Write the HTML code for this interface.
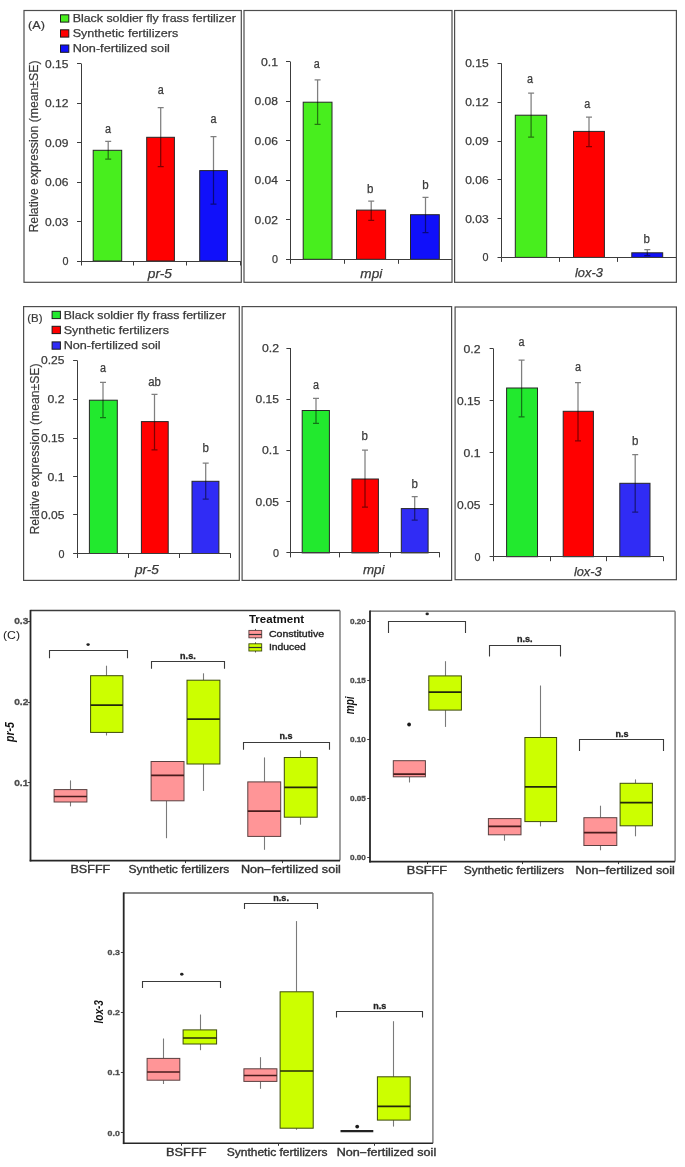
<!DOCTYPE html>
<html><head><meta charset="utf-8"><style>
html,body{margin:0;padding:0;background:#fff;}
svg{display:block;font-family:"Liberation Sans", sans-serif;will-change:transform;}
</style></head><body>
<svg width="685" height="1167" viewBox="0 0 685 1167" font-family='"Liberation Sans", sans-serif'>
<rect width="685" height="1167" fill="#fff"/>
<rect x="24" y="10.5" width="217.3" height="271.8" fill="none" stroke="#4d4d4d" stroke-width="1.2"/>
<line x1="81.5" y1="63.5" x2="81.5" y2="261" stroke="#3c3c3c" stroke-width="1"/>
<line x1="77" y1="63.5" x2="81" y2="63.5" stroke="#3c3c3c" stroke-width="1"/>
<text x="68.5" y="67.5" font-size="11" text-anchor="end" fill="#3a3a3a" stroke="#3a3a3a" stroke-width="0.25" textLength="23.4" lengthAdjust="spacingAndGlyphs">0.15</text>
<line x1="77" y1="103.5" x2="81" y2="103.5" stroke="#3c3c3c" stroke-width="1"/>
<text x="68.5" y="107" font-size="11" text-anchor="end" fill="#3a3a3a" stroke="#3a3a3a" stroke-width="0.25" textLength="23.4" lengthAdjust="spacingAndGlyphs">0.12</text>
<line x1="77" y1="142.5" x2="81" y2="142.5" stroke="#3c3c3c" stroke-width="1"/>
<text x="68.5" y="146.5" font-size="11" text-anchor="end" fill="#3a3a3a" stroke="#3a3a3a" stroke-width="0.25" textLength="23.4" lengthAdjust="spacingAndGlyphs">0.09</text>
<line x1="77" y1="182.5" x2="81" y2="182.5" stroke="#3c3c3c" stroke-width="1"/>
<text x="68.5" y="186" font-size="11" text-anchor="end" fill="#3a3a3a" stroke="#3a3a3a" stroke-width="0.25" textLength="23.4" lengthAdjust="spacingAndGlyphs">0.06</text>
<line x1="77" y1="221.5" x2="81" y2="221.5" stroke="#3c3c3c" stroke-width="1"/>
<text x="68.5" y="225.5" font-size="11" text-anchor="end" fill="#3a3a3a" stroke="#3a3a3a" stroke-width="0.25" textLength="23.4" lengthAdjust="spacingAndGlyphs">0.03</text>
<line x1="77" y1="261.5" x2="81" y2="261.5" stroke="#3c3c3c" stroke-width="1"/>
<text x="68.5" y="265" font-size="11" text-anchor="end" fill="#3a3a3a" stroke="#3a3a3a" stroke-width="0.25" textLength="6" lengthAdjust="spacingAndGlyphs">0</text>
<rect x="93.2" y="150.3" width="28.5" height="110.7" fill="#48ee1e" stroke="#262626" stroke-width="1"/>
<rect x="146.7" y="137.3" width="27.7" height="123.7" fill="#ff0000" stroke="#262626" stroke-width="1"/>
<rect x="199.7" y="170.6" width="27.7" height="90.4" fill="#1010fa" stroke="#262626" stroke-width="1"/>
<line x1="81" y1="261.5" x2="241" y2="261.5" stroke="#3c3c3c" stroke-width="1"/>
<line x1="81.5" y1="261" x2="81.5" y2="265.5" stroke="#3c3c3c" stroke-width="1"/>
<line x1="133.5" y1="261" x2="133.5" y2="265.5" stroke="#3c3c3c" stroke-width="1"/>
<line x1="186.5" y1="261" x2="186.5" y2="265.5" stroke="#3c3c3c" stroke-width="1"/>
<line x1="240.5" y1="261" x2="240.5" y2="265.5" stroke="#3c3c3c" stroke-width="1"/>
<path d="M108.2,141.4 V159 M105.2,141.4 H111.2 M105.2,159 H111.2" stroke="#000" stroke-opacity="0.5" stroke-width="1.25" fill="none"/>
<path d="M160.7,107.7 V166.7 M157.7,107.7 H163.7 M157.7,166.7 H163.7" stroke="#000" stroke-opacity="0.5" stroke-width="1.25" fill="none"/>
<path d="M213.5,136.6 V204 M210.5,136.6 H216.5 M210.5,204 H216.5" stroke="#000" stroke-opacity="0.5" stroke-width="1.25" fill="none"/>
<text x="108" y="133" font-size="12.3" text-anchor="middle" fill="#3a3a3a" stroke="#3a3a3a" stroke-width="0.25" textLength="6" lengthAdjust="spacingAndGlyphs">a</text>
<text x="160.7" y="94" font-size="12.3" text-anchor="middle" fill="#3a3a3a" stroke="#3a3a3a" stroke-width="0.25" textLength="6" lengthAdjust="spacingAndGlyphs">a</text>
<text x="213.5" y="122.8" font-size="12.3" text-anchor="middle" fill="#3a3a3a" stroke="#3a3a3a" stroke-width="0.25" textLength="6" lengthAdjust="spacingAndGlyphs">a</text>
<text x="159.9" y="277.7" font-size="12.5" text-anchor="middle" fill="#3a3a3a" stroke="#3a3a3a" stroke-width="0.25" font-style="italic" textLength="24.2" lengthAdjust="spacingAndGlyphs">pr-5</text>
<rect x="244" y="10.5" width="208" height="271.8" fill="none" stroke="#4d4d4d" stroke-width="1.2"/>
<line x1="290.5" y1="61.5" x2="290.5" y2="259.3" stroke="#3c3c3c" stroke-width="1"/>
<line x1="286" y1="61.5" x2="290" y2="61.5" stroke="#3c3c3c" stroke-width="1"/>
<text x="278" y="65.5" font-size="11" text-anchor="end" fill="#3a3a3a" stroke="#3a3a3a" stroke-width="0.25" textLength="17" lengthAdjust="spacingAndGlyphs">0.1</text>
<line x1="286" y1="101.5" x2="290" y2="101.5" stroke="#3c3c3c" stroke-width="1"/>
<text x="278" y="105" font-size="11" text-anchor="end" fill="#3a3a3a" stroke="#3a3a3a" stroke-width="0.25" textLength="23.4" lengthAdjust="spacingAndGlyphs">0.08</text>
<line x1="286" y1="140.5" x2="290" y2="140.5" stroke="#3c3c3c" stroke-width="1"/>
<text x="278" y="144.6" font-size="11" text-anchor="end" fill="#3a3a3a" stroke="#3a3a3a" stroke-width="0.25" textLength="23.4" lengthAdjust="spacingAndGlyphs">0.06</text>
<line x1="286" y1="180.5" x2="290" y2="180.5" stroke="#3c3c3c" stroke-width="1"/>
<text x="278" y="184.1" font-size="11" text-anchor="end" fill="#3a3a3a" stroke="#3a3a3a" stroke-width="0.25" textLength="23.4" lengthAdjust="spacingAndGlyphs">0.04</text>
<line x1="286" y1="219.5" x2="290" y2="219.5" stroke="#3c3c3c" stroke-width="1"/>
<text x="278" y="223.7" font-size="11" text-anchor="end" fill="#3a3a3a" stroke="#3a3a3a" stroke-width="0.25" textLength="23.4" lengthAdjust="spacingAndGlyphs">0.02</text>
<line x1="286" y1="259.5" x2="290" y2="259.5" stroke="#3c3c3c" stroke-width="1"/>
<text x="278" y="263.3" font-size="11" text-anchor="end" fill="#3a3a3a" stroke="#3a3a3a" stroke-width="0.25" textLength="6" lengthAdjust="spacingAndGlyphs">0</text>
<rect x="303.2" y="102.2" width="28.8" height="157.1" fill="#48ee1e" stroke="#262626" stroke-width="1"/>
<rect x="356.5" y="210.1" width="29.1" height="49.2" fill="#ff0000" stroke="#262626" stroke-width="1"/>
<rect x="410.5" y="214.7" width="28.8" height="44.6" fill="#1010fa" stroke="#262626" stroke-width="1"/>
<line x1="290" y1="259.5" x2="452" y2="259.5" stroke="#3c3c3c" stroke-width="1"/>
<line x1="290.5" y1="259.3" x2="290.5" y2="263.8" stroke="#3c3c3c" stroke-width="1"/>
<line x1="344.5" y1="259.3" x2="344.5" y2="263.8" stroke="#3c3c3c" stroke-width="1"/>
<line x1="398.5" y1="259.3" x2="398.5" y2="263.8" stroke="#3c3c3c" stroke-width="1"/>
<path d="M317.6,79.9 V124.3 M314.6,79.9 H320.6 M314.6,124.3 H320.6" stroke="#000" stroke-opacity="0.5" stroke-width="1.25" fill="none"/>
<path d="M371.2,201 V220.3 M368.2,201 H374.2 M368.2,220.3 H374.2" stroke="#000" stroke-opacity="0.5" stroke-width="1.25" fill="none"/>
<path d="M425.5,197.3 V232.5 M422.5,197.3 H428.5 M422.5,232.5 H428.5" stroke="#000" stroke-opacity="0.5" stroke-width="1.25" fill="none"/>
<text x="316.7" y="68" font-size="12.3" text-anchor="middle" fill="#3a3a3a" stroke="#3a3a3a" stroke-width="0.25" textLength="6" lengthAdjust="spacingAndGlyphs">a</text>
<text x="370.3" y="192.8" font-size="12.3" text-anchor="middle" fill="#3a3a3a" stroke="#3a3a3a" stroke-width="0.25" textLength="6.4" lengthAdjust="spacingAndGlyphs">b</text>
<text x="425.5" y="188.8" font-size="12.3" text-anchor="middle" fill="#3a3a3a" stroke="#3a3a3a" stroke-width="0.25" textLength="6.4" lengthAdjust="spacingAndGlyphs">b</text>
<text x="371.3" y="277.7" font-size="12.5" text-anchor="middle" fill="#3a3a3a" stroke="#3a3a3a" stroke-width="0.25" font-style="italic" textLength="21.9" lengthAdjust="spacingAndGlyphs">mpi</text>
<rect x="454.6" y="10.5" width="221.8" height="271.8" fill="none" stroke="#4d4d4d" stroke-width="1.2"/>
<line x1="501.5" y1="63.4" x2="501.5" y2="257.4" stroke="#3c3c3c" stroke-width="1"/>
<line x1="497.5" y1="63.5" x2="501.5" y2="63.5" stroke="#3c3c3c" stroke-width="1"/>
<text x="488.6" y="67.4" font-size="11" text-anchor="end" fill="#3a3a3a" stroke="#3a3a3a" stroke-width="0.25" textLength="23.4" lengthAdjust="spacingAndGlyphs">0.15</text>
<line x1="497.5" y1="102.5" x2="501.5" y2="102.5" stroke="#3c3c3c" stroke-width="1"/>
<text x="488.6" y="106.2" font-size="11" text-anchor="end" fill="#3a3a3a" stroke="#3a3a3a" stroke-width="0.25" textLength="23.4" lengthAdjust="spacingAndGlyphs">0.12</text>
<line x1="497.5" y1="141.5" x2="501.5" y2="141.5" stroke="#3c3c3c" stroke-width="1"/>
<text x="488.6" y="145" font-size="11" text-anchor="end" fill="#3a3a3a" stroke="#3a3a3a" stroke-width="0.25" textLength="23.4" lengthAdjust="spacingAndGlyphs">0.09</text>
<line x1="497.5" y1="179.5" x2="501.5" y2="179.5" stroke="#3c3c3c" stroke-width="1"/>
<text x="488.6" y="183.8" font-size="11" text-anchor="end" fill="#3a3a3a" stroke="#3a3a3a" stroke-width="0.25" textLength="23.4" lengthAdjust="spacingAndGlyphs">0.06</text>
<line x1="497.5" y1="218.5" x2="501.5" y2="218.5" stroke="#3c3c3c" stroke-width="1"/>
<text x="488.6" y="222.6" font-size="11" text-anchor="end" fill="#3a3a3a" stroke="#3a3a3a" stroke-width="0.25" textLength="23.4" lengthAdjust="spacingAndGlyphs">0.03</text>
<line x1="497.5" y1="257.5" x2="501.5" y2="257.5" stroke="#3c3c3c" stroke-width="1"/>
<text x="488.6" y="261.4" font-size="11" text-anchor="end" fill="#3a3a3a" stroke="#3a3a3a" stroke-width="0.25" textLength="6" lengthAdjust="spacingAndGlyphs">0</text>
<rect x="515.3" y="115.2" width="31.4" height="142.2" fill="#48ee1e" stroke="#262626" stroke-width="1"/>
<rect x="573.5" y="131.4" width="30.9" height="126" fill="#ff0000" stroke="#262626" stroke-width="1"/>
<rect x="631.8" y="252.8" width="30.9" height="4.6" fill="#1010fa" stroke="#262626" stroke-width="1"/>
<line x1="501.5" y1="257.5" x2="676" y2="257.5" stroke="#3c3c3c" stroke-width="1"/>
<line x1="501.5" y1="257.4" x2="501.5" y2="261.9" stroke="#3c3c3c" stroke-width="1"/>
<line x1="559.5" y1="257.4" x2="559.5" y2="261.9" stroke="#3c3c3c" stroke-width="1"/>
<line x1="617.5" y1="257.4" x2="617.5" y2="261.9" stroke="#3c3c3c" stroke-width="1"/>
<path d="M531.1,93 V137.2 M528.1,93 H534.1 M528.1,137.2 H534.1" stroke="#000" stroke-opacity="0.5" stroke-width="1.25" fill="none"/>
<path d="M589,117 V146.5 M586,117 H592 M586,146.5 H592" stroke="#000" stroke-opacity="0.5" stroke-width="1.25" fill="none"/>
<path d="M647.3,249.7 V255.6 M644.3,249.7 H650.3 M644.3,255.6 H650.3" stroke="#000" stroke-opacity="0.5" stroke-width="1.25" fill="none"/>
<text x="530" y="83.1" font-size="12.3" text-anchor="middle" fill="#3a3a3a" stroke="#3a3a3a" stroke-width="0.25" textLength="6" lengthAdjust="spacingAndGlyphs">a</text>
<text x="587.2" y="107.5" font-size="12.3" text-anchor="middle" fill="#3a3a3a" stroke="#3a3a3a" stroke-width="0.25" textLength="6" lengthAdjust="spacingAndGlyphs">a</text>
<text x="646.6" y="243.1" font-size="12.3" text-anchor="middle" fill="#3a3a3a" stroke="#3a3a3a" stroke-width="0.25" textLength="6.4" lengthAdjust="spacingAndGlyphs">b</text>
<text x="588.9" y="276.6" font-size="12.5" text-anchor="middle" fill="#3a3a3a" stroke="#3a3a3a" stroke-width="0.25" font-style="italic" textLength="27.8" lengthAdjust="spacingAndGlyphs">lox-3</text>
<rect x="23.6" y="306.6" width="215.7" height="273.8" fill="none" stroke="#4d4d4d" stroke-width="1.2"/>
<line x1="77.5" y1="360.4" x2="77.5" y2="553.5" stroke="#3c3c3c" stroke-width="1"/>
<line x1="73.1" y1="360.5" x2="77.1" y2="360.5" stroke="#3c3c3c" stroke-width="1"/>
<text x="64.5" y="364.4" font-size="11" text-anchor="end" fill="#3a3a3a" stroke="#3a3a3a" stroke-width="0.25" textLength="23.4" lengthAdjust="spacingAndGlyphs">0.25</text>
<line x1="73.1" y1="399.5" x2="77.1" y2="399.5" stroke="#3c3c3c" stroke-width="1"/>
<text x="64.5" y="403.1" font-size="11" text-anchor="end" fill="#3a3a3a" stroke="#3a3a3a" stroke-width="0.25" textLength="17" lengthAdjust="spacingAndGlyphs">0.2</text>
<line x1="73.1" y1="438.5" x2="77.1" y2="438.5" stroke="#3c3c3c" stroke-width="1"/>
<text x="64.5" y="442.2" font-size="11" text-anchor="end" fill="#3a3a3a" stroke="#3a3a3a" stroke-width="0.25" textLength="23.4" lengthAdjust="spacingAndGlyphs">0.15</text>
<line x1="73.1" y1="476.5" x2="77.1" y2="476.5" stroke="#3c3c3c" stroke-width="1"/>
<text x="64.5" y="480.5" font-size="11" text-anchor="end" fill="#3a3a3a" stroke="#3a3a3a" stroke-width="0.25" textLength="17" lengthAdjust="spacingAndGlyphs">0.1</text>
<line x1="73.1" y1="514.5" x2="77.1" y2="514.5" stroke="#3c3c3c" stroke-width="1"/>
<text x="64.5" y="518.8" font-size="11" text-anchor="end" fill="#3a3a3a" stroke="#3a3a3a" stroke-width="0.25" textLength="23.4" lengthAdjust="spacingAndGlyphs">0.05</text>
<line x1="73.1" y1="553.5" x2="77.1" y2="553.5" stroke="#3c3c3c" stroke-width="1"/>
<text x="64.5" y="557.5" font-size="11" text-anchor="end" fill="#3a3a3a" stroke="#3a3a3a" stroke-width="0.25" textLength="6" lengthAdjust="spacingAndGlyphs">0</text>
<rect x="89.4" y="400.2" width="27.9" height="153.3" fill="#22e92e" stroke="#262626" stroke-width="1"/>
<rect x="141.4" y="421.6" width="26.8" height="131.9" fill="#ff0000" stroke="#262626" stroke-width="1"/>
<rect x="192" y="481.3" width="26.9" height="72.2" fill="#302cf5" stroke="#262626" stroke-width="1"/>
<line x1="77.1" y1="553.5" x2="230.7" y2="553.5" stroke="#3c3c3c" stroke-width="1"/>
<line x1="77.5" y1="553.5" x2="77.5" y2="558" stroke="#3c3c3c" stroke-width="1"/>
<line x1="128.5" y1="553.5" x2="128.5" y2="558" stroke="#3c3c3c" stroke-width="1"/>
<line x1="179.5" y1="553.5" x2="179.5" y2="558" stroke="#3c3c3c" stroke-width="1"/>
<line x1="230.5" y1="553.5" x2="230.5" y2="558" stroke="#3c3c3c" stroke-width="1"/>
<path d="M103,382.3 V417.7 M100,382.3 H106 M100,417.7 H106" stroke="#000" stroke-opacity="0.5" stroke-width="1.25" fill="none"/>
<path d="M154.5,394.4 V449.9 M151.5,394.4 H157.5 M151.5,449.9 H157.5" stroke="#000" stroke-opacity="0.5" stroke-width="1.25" fill="none"/>
<path d="M205.7,463.1 V499.2 M202.7,463.1 H208.7 M202.7,499.2 H208.7" stroke="#000" stroke-opacity="0.5" stroke-width="1.25" fill="none"/>
<text x="103" y="371.5" font-size="12.3" text-anchor="middle" fill="#3a3a3a" stroke="#3a3a3a" stroke-width="0.25" textLength="6" lengthAdjust="spacingAndGlyphs">a</text>
<text x="154.5" y="385.5" font-size="12.3" text-anchor="middle" fill="#3a3a3a" stroke="#3a3a3a" stroke-width="0.25" textLength="12.6" lengthAdjust="spacingAndGlyphs">ab</text>
<text x="205.6" y="451.7" font-size="12.3" text-anchor="middle" fill="#3a3a3a" stroke="#3a3a3a" stroke-width="0.25" textLength="6.4" lengthAdjust="spacingAndGlyphs">b</text>
<text x="146.9" y="573.9" font-size="12.5" text-anchor="middle" fill="#3a3a3a" stroke="#3a3a3a" stroke-width="0.25" font-style="italic" textLength="24" lengthAdjust="spacingAndGlyphs">pr-5</text>
<rect x="242.1" y="306.6" width="209.5" height="273.8" fill="none" stroke="#4d4d4d" stroke-width="1.2"/>
<line x1="290.5" y1="348" x2="290.5" y2="552.9" stroke="#3c3c3c" stroke-width="1"/>
<line x1="286.4" y1="348.5" x2="290.4" y2="348.5" stroke="#3c3c3c" stroke-width="1"/>
<text x="279" y="352" font-size="11" text-anchor="end" fill="#3a3a3a" stroke="#3a3a3a" stroke-width="0.25" textLength="17" lengthAdjust="spacingAndGlyphs">0.2</text>
<line x1="286.4" y1="399.5" x2="290.4" y2="399.5" stroke="#3c3c3c" stroke-width="1"/>
<text x="279" y="403.2" font-size="11" text-anchor="end" fill="#3a3a3a" stroke="#3a3a3a" stroke-width="0.25" textLength="23.4" lengthAdjust="spacingAndGlyphs">0.15</text>
<line x1="286.4" y1="450.5" x2="290.4" y2="450.5" stroke="#3c3c3c" stroke-width="1"/>
<text x="279" y="454.4" font-size="11" text-anchor="end" fill="#3a3a3a" stroke="#3a3a3a" stroke-width="0.25" textLength="17" lengthAdjust="spacingAndGlyphs">0.1</text>
<line x1="286.4" y1="501.5" x2="290.4" y2="501.5" stroke="#3c3c3c" stroke-width="1"/>
<text x="279" y="505.6" font-size="11" text-anchor="end" fill="#3a3a3a" stroke="#3a3a3a" stroke-width="0.25" textLength="23.4" lengthAdjust="spacingAndGlyphs">0.05</text>
<line x1="286.4" y1="552.5" x2="290.4" y2="552.5" stroke="#3c3c3c" stroke-width="1"/>
<text x="279" y="556.9" font-size="11" text-anchor="end" fill="#3a3a3a" stroke="#3a3a3a" stroke-width="0.25" textLength="6" lengthAdjust="spacingAndGlyphs">0</text>
<rect x="302.2" y="410.5" width="27.2" height="142.4" fill="#22e92e" stroke="#262626" stroke-width="1"/>
<rect x="351.9" y="479" width="26.5" height="73.9" fill="#ff0000" stroke="#262626" stroke-width="1"/>
<rect x="401.3" y="508.6" width="26.8" height="44.3" fill="#302cf5" stroke="#262626" stroke-width="1"/>
<line x1="290.4" y1="552.5" x2="439.9" y2="552.5" stroke="#3c3c3c" stroke-width="1"/>
<line x1="290.5" y1="552.9" x2="290.5" y2="557.4" stroke="#3c3c3c" stroke-width="1"/>
<line x1="339.5" y1="552.9" x2="339.5" y2="557.4" stroke="#3c3c3c" stroke-width="1"/>
<line x1="390.5" y1="552.9" x2="390.5" y2="557.4" stroke="#3c3c3c" stroke-width="1"/>
<line x1="439.5" y1="552.9" x2="439.5" y2="557.4" stroke="#3c3c3c" stroke-width="1"/>
<path d="M316,398.4 V423.3 M313,398.4 H319 M313,423.3 H319" stroke="#000" stroke-opacity="0.5" stroke-width="1.25" fill="none"/>
<path d="M365,450.1 V507.2 M362,450.1 H368 M362,507.2 H368" stroke="#000" stroke-opacity="0.5" stroke-width="1.25" fill="none"/>
<path d="M414.7,496.5 V520 M411.7,496.5 H417.7 M411.7,520 H417.7" stroke="#000" stroke-opacity="0.5" stroke-width="1.25" fill="none"/>
<text x="316" y="388.5" font-size="12.3" text-anchor="middle" fill="#3a3a3a" stroke="#3a3a3a" stroke-width="0.25" textLength="6" lengthAdjust="spacingAndGlyphs">a</text>
<text x="364.7" y="439.7" font-size="12.3" text-anchor="middle" fill="#3a3a3a" stroke="#3a3a3a" stroke-width="0.25" textLength="6.4" lengthAdjust="spacingAndGlyphs">b</text>
<text x="414.7" y="488" font-size="12.3" text-anchor="middle" fill="#3a3a3a" stroke="#3a3a3a" stroke-width="0.25" textLength="6.4" lengthAdjust="spacingAndGlyphs">b</text>
<text x="373.7" y="574.4" font-size="12.5" text-anchor="middle" fill="#3a3a3a" stroke="#3a3a3a" stroke-width="0.25" font-style="italic" textLength="21.6" lengthAdjust="spacingAndGlyphs">mpi</text>
<rect x="455.1" y="307" width="221.3" height="272.7" fill="none" stroke="#4d4d4d" stroke-width="1.2"/>
<line x1="493.5" y1="348.9" x2="493.5" y2="556.7" stroke="#3c3c3c" stroke-width="1"/>
<line x1="489.6" y1="348.5" x2="493.6" y2="348.5" stroke="#3c3c3c" stroke-width="1"/>
<text x="480.5" y="352.9" font-size="11" text-anchor="end" fill="#3a3a3a" stroke="#3a3a3a" stroke-width="0.25" textLength="17" lengthAdjust="spacingAndGlyphs">0.2</text>
<line x1="489.6" y1="400.5" x2="493.6" y2="400.5" stroke="#3c3c3c" stroke-width="1"/>
<text x="480.5" y="404.9" font-size="11" text-anchor="end" fill="#3a3a3a" stroke="#3a3a3a" stroke-width="0.25" textLength="23.4" lengthAdjust="spacingAndGlyphs">0.15</text>
<line x1="489.6" y1="452.5" x2="493.6" y2="452.5" stroke="#3c3c3c" stroke-width="1"/>
<text x="480.5" y="456.8" font-size="11" text-anchor="end" fill="#3a3a3a" stroke="#3a3a3a" stroke-width="0.25" textLength="17" lengthAdjust="spacingAndGlyphs">0.1</text>
<line x1="489.6" y1="504.5" x2="493.6" y2="504.5" stroke="#3c3c3c" stroke-width="1"/>
<text x="480.5" y="508.8" font-size="11" text-anchor="end" fill="#3a3a3a" stroke="#3a3a3a" stroke-width="0.25" textLength="23.4" lengthAdjust="spacingAndGlyphs">0.05</text>
<line x1="489.6" y1="556.5" x2="493.6" y2="556.5" stroke="#3c3c3c" stroke-width="1"/>
<text x="480.5" y="560.7" font-size="11" text-anchor="end" fill="#3a3a3a" stroke="#3a3a3a" stroke-width="0.25" textLength="6" lengthAdjust="spacingAndGlyphs">0</text>
<rect x="506.6" y="388" width="30.9" height="168.7" fill="#22e92e" stroke="#262626" stroke-width="1"/>
<rect x="563.2" y="411.3" width="30.2" height="145.4" fill="#ff0000" stroke="#262626" stroke-width="1"/>
<rect x="619.8" y="483.3" width="30.2" height="73.4" fill="#302cf5" stroke="#262626" stroke-width="1"/>
<line x1="493.6" y1="556.5" x2="663.4" y2="556.5" stroke="#3c3c3c" stroke-width="1"/>
<line x1="493.5" y1="556.7" x2="493.5" y2="561.2" stroke="#3c3c3c" stroke-width="1"/>
<line x1="550.5" y1="556.7" x2="550.5" y2="561.2" stroke="#3c3c3c" stroke-width="1"/>
<line x1="606.5" y1="556.7" x2="606.5" y2="561.2" stroke="#3c3c3c" stroke-width="1"/>
<line x1="663.5" y1="556.7" x2="663.5" y2="561.2" stroke="#3c3c3c" stroke-width="1"/>
<path d="M521.6,360.2 V416.8 M518.6,360.2 H524.6 M518.6,416.8 H524.6" stroke="#000" stroke-opacity="0.5" stroke-width="1.25" fill="none"/>
<path d="M578,382.5 V440.8 M575,382.5 H581 M575,440.8 H581" stroke="#000" stroke-opacity="0.5" stroke-width="1.25" fill="none"/>
<path d="M635.2,454.5 V512.2 M632.2,454.5 H638.2 M632.2,512.2 H638.2" stroke="#000" stroke-opacity="0.5" stroke-width="1.25" fill="none"/>
<text x="521.4" y="345.8" font-size="12.3" text-anchor="middle" fill="#3a3a3a" stroke="#3a3a3a" stroke-width="0.25" textLength="6" lengthAdjust="spacingAndGlyphs">a</text>
<text x="578" y="370.5" font-size="12.3" text-anchor="middle" fill="#3a3a3a" stroke="#3a3a3a" stroke-width="0.25" textLength="6" lengthAdjust="spacingAndGlyphs">a</text>
<text x="635.2" y="445.1" font-size="12.3" text-anchor="middle" fill="#3a3a3a" stroke="#3a3a3a" stroke-width="0.25" textLength="6.4" lengthAdjust="spacingAndGlyphs">b</text>
<text x="587.8" y="575.5" font-size="12.5" text-anchor="middle" fill="#3a3a3a" stroke="#3a3a3a" stroke-width="0.25" font-style="italic" textLength="27.8" lengthAdjust="spacingAndGlyphs">lox-3</text>
<rect x="60.5" y="14.8" width="8.3" height="7.3" fill="#48ee1e" stroke="#1a1a1a" stroke-width="1"/>
<text x="72.7" y="21.6" font-size="11" text-anchor="start" fill="#3a3a3a" stroke="#3a3a3a" stroke-width="0.25" textLength="163.1" lengthAdjust="spacingAndGlyphs">Black soldier fly frass fertilizer</text>
<rect x="60.5" y="29.8" width="8.3" height="7.3" fill="#ff0000" stroke="#1a1a1a" stroke-width="1"/>
<text x="72.7" y="36.8" font-size="11" text-anchor="start" fill="#3a3a3a" stroke="#3a3a3a" stroke-width="0.25" textLength="105.5" lengthAdjust="spacingAndGlyphs">Synthetic fertilizers</text>
<rect x="60.5" y="45" width="8.3" height="7.3" fill="#1010fa" stroke="#1a1a1a" stroke-width="1"/>
<text x="72.7" y="52.2" font-size="11" text-anchor="start" fill="#3a3a3a" stroke="#3a3a3a" stroke-width="0.25" textLength="97.1" lengthAdjust="spacingAndGlyphs">Non-fertilized soil</text>
<rect x="52.1" y="311.3" width="8.3" height="7.3" fill="#22e92e" stroke="#1a1a1a" stroke-width="1"/>
<text x="63.7" y="318.8" font-size="11" text-anchor="start" fill="#3a3a3a" stroke="#3a3a3a" stroke-width="0.25" textLength="162.3" lengthAdjust="spacingAndGlyphs">Black soldier fly frass fertilizer</text>
<rect x="52.1" y="326.3" width="8.3" height="7.3" fill="#ff0000" stroke="#1a1a1a" stroke-width="1"/>
<text x="63.7" y="333.9" font-size="11" text-anchor="start" fill="#3a3a3a" stroke="#3a3a3a" stroke-width="0.25" textLength="105.4" lengthAdjust="spacingAndGlyphs">Synthetic fertilizers</text>
<rect x="52.1" y="341.9" width="8.3" height="7.3" fill="#302cf5" stroke="#1a1a1a" stroke-width="1"/>
<text x="63.7" y="349.1" font-size="11" text-anchor="start" fill="#3a3a3a" stroke="#3a3a3a" stroke-width="0.25" textLength="96.9" lengthAdjust="spacingAndGlyphs">Non-fertilized soil</text>
<text x="28" y="28.6" font-size="11.5" text-anchor="start" fill="#3a3a3a" stroke="#3a3a3a" stroke-width="0.2" textLength="16.9" lengthAdjust="spacingAndGlyphs">(A)</text>
<text x="27.2" y="321.8" font-size="11.5" text-anchor="start" fill="#3a3a3a" stroke="#3a3a3a" stroke-width="0.2" textLength="15.3" lengthAdjust="spacingAndGlyphs">(B)</text>
<text transform="translate(38.4,232.5) rotate(-90)" font-size="12.3" fill="#3a3a3a" stroke="#3a3a3a" stroke-width="0.2" textLength="172" lengthAdjust="spacingAndGlyphs">Relative expression (mean±SE)</text>
<text transform="translate(39.3,534.5) rotate(-90)" font-size="12.3" fill="#3a3a3a" stroke="#3a3a3a" stroke-width="0.2" textLength="171" lengthAdjust="spacingAndGlyphs">Relative expression (mean±SE)</text>
<line x1="30.5" y1="610.5" x2="340" y2="610.5" stroke="#3c3c3c" stroke-width="1.3"/>
<line x1="340" y1="610.5" x2="340" y2="860.6" stroke="#777" stroke-width="1.4"/>
<line x1="27.7" y1="621.5" x2="30.5" y2="621.5" stroke="#444" stroke-width="1"/>
<text x="28.4" y="624.29" font-size="9.2" text-anchor="end" fill="#4d4d4d" stroke="#4d4d4d" stroke-width="0.3" font-weight="bold" textLength="14.2" lengthAdjust="spacingAndGlyphs">0.3</text>
<line x1="27.7" y1="702.5" x2="30.5" y2="702.5" stroke="#444" stroke-width="1"/>
<text x="28.4" y="705.49" font-size="9.2" text-anchor="end" fill="#4d4d4d" stroke="#4d4d4d" stroke-width="0.3" font-weight="bold" textLength="14.2" lengthAdjust="spacingAndGlyphs">0.2</text>
<line x1="27.7" y1="782.5" x2="30.5" y2="782.5" stroke="#444" stroke-width="1"/>
<text x="28.4" y="785.89" font-size="9.2" text-anchor="end" fill="#4d4d4d" stroke="#4d4d4d" stroke-width="0.3" font-weight="bold" textLength="14.2" lengthAdjust="spacingAndGlyphs">0.1</text>
<line x1="70.5" y1="780.4" x2="70.5" y2="789.6" stroke="#7a7a7a" stroke-width="1.1"/>
<line x1="70.5" y1="802" x2="70.5" y2="806.4" stroke="#7a7a7a" stroke-width="1.1"/>
<rect x="54.1" y="789.6" width="32.8" height="12.4" fill="#ff9597" stroke="#5a4040" stroke-width="1"/>
<line x1="54.1" y1="796.5" x2="86.9" y2="796.5" stroke="#4a1c1c" stroke-width="1.7"/>
<line x1="106.5" y1="665.7" x2="106.5" y2="675.7" stroke="#7a7a7a" stroke-width="1.1"/>
<line x1="106.5" y1="732.4" x2="106.5" y2="735.5" stroke="#7a7a7a" stroke-width="1.1"/>
<rect x="90.6" y="675.7" width="32.3" height="56.7" fill="#ccff00" stroke="#3d4a0a" stroke-width="1"/>
<line x1="90.6" y1="705.2" x2="122.9" y2="705.2" stroke="#23280c" stroke-width="1.7"/>
<line x1="166.5" y1="761" x2="166.5" y2="761.5" stroke="#7a7a7a" stroke-width="1.1"/>
<line x1="166.5" y1="800.8" x2="166.5" y2="838.2" stroke="#7a7a7a" stroke-width="1.1"/>
<rect x="151.1" y="761.5" width="32.9" height="39.3" fill="#ff9597" stroke="#5a4040" stroke-width="1"/>
<line x1="151.1" y1="775.3" x2="184" y2="775.3" stroke="#4a1c1c" stroke-width="1.7"/>
<line x1="203.5" y1="673.3" x2="203.5" y2="680.2" stroke="#7a7a7a" stroke-width="1.1"/>
<line x1="203.5" y1="764" x2="203.5" y2="790.9" stroke="#7a7a7a" stroke-width="1.1"/>
<rect x="187" y="680.2" width="32.9" height="83.8" fill="#ccff00" stroke="#3d4a0a" stroke-width="1"/>
<line x1="187" y1="719.1" x2="219.9" y2="719.1" stroke="#23280c" stroke-width="1.7"/>
<line x1="264.5" y1="757.4" x2="264.5" y2="781.9" stroke="#7a7a7a" stroke-width="1.1"/>
<line x1="264.5" y1="836.4" x2="264.5" y2="849.8" stroke="#7a7a7a" stroke-width="1.1"/>
<rect x="247.8" y="781.9" width="32.9" height="54.5" fill="#ff9597" stroke="#5a4040" stroke-width="1"/>
<line x1="247.8" y1="811.2" x2="280.7" y2="811.2" stroke="#4a1c1c" stroke-width="1.7"/>
<line x1="300.5" y1="750.5" x2="300.5" y2="757.5" stroke="#7a7a7a" stroke-width="1.1"/>
<line x1="300.5" y1="817.2" x2="300.5" y2="824.7" stroke="#7a7a7a" stroke-width="1.1"/>
<rect x="284.3" y="757.5" width="32.9" height="59.7" fill="#ccff00" stroke="#3d4a0a" stroke-width="1"/>
<line x1="284.3" y1="787.3" x2="317.2" y2="787.3" stroke="#23280c" stroke-width="1.7"/>
<path d="M49.5,658.3 V650.5 H127.5 V658.3" fill="none" stroke="#3a3a3a" stroke-width="1.1"/>
<ellipse cx="88.1" cy="644.6" rx="1.7" ry="1.45" fill="#222"/>
<path d="M151.5,668.8 V661.5 H224.5 V668.8" fill="none" stroke="#3a3a3a" stroke-width="1.1"/>
<text x="187.9" y="658.9" font-size="8.2" text-anchor="middle" fill="#222" stroke="#222" stroke-width="0.3" font-weight="bold" textLength="15.6" lengthAdjust="spacingAndGlyphs">n.s.</text>
<path d="M243.5,749.7 V742.5 H329.5 V749.7" fill="none" stroke="#3a3a3a" stroke-width="1.1"/>
<text x="286" y="739.4" font-size="8.2" text-anchor="middle" fill="#222" stroke="#222" stroke-width="0.3" font-weight="bold" textLength="13" lengthAdjust="spacingAndGlyphs">n.s</text>
<line x1="30.5" y1="609.9" x2="30.5" y2="861.4" stroke="#262626" stroke-width="1.8"/>
<line x1="29.7" y1="860.6" x2="340" y2="860.6" stroke="#262626" stroke-width="1.6"/>
<line x1="88.5" y1="860.6" x2="88.5" y2="863.1" stroke="#333" stroke-width="1"/>
<line x1="185.5" y1="860.6" x2="185.5" y2="863.1" stroke="#333" stroke-width="1"/>
<line x1="282.5" y1="860.6" x2="282.5" y2="863.1" stroke="#333" stroke-width="1"/>
<text x="70.5" y="873" font-size="10.2" text-anchor="start" fill="#333" textLength="39.7" lengthAdjust="spacingAndGlyphs" stroke="#333" stroke-width="0.35">BSFFF</text>
<text x="128.5" y="873" font-size="10.2" text-anchor="start" fill="#333" textLength="100.7" lengthAdjust="spacingAndGlyphs" stroke="#333" stroke-width="0.35">Synthetic fertilizers</text>
<text x="240.9" y="873" font-size="10.2" text-anchor="start" fill="#333" textLength="99.9" lengthAdjust="spacingAndGlyphs" stroke="#333" stroke-width="0.35">Non−fertilized soil</text>
<text transform="translate(14,742) scale(1.2,1) rotate(-90)" font-size="10.5" font-weight="bold" font-style="italic" fill="#111" textLength="20" lengthAdjust="spacingAndGlyphs">pr-5</text>
<line x1="370" y1="611.2" x2="675.1" y2="611.2" stroke="#626262" stroke-width="1.3"/>
<line x1="675.1" y1="611.2" x2="675.1" y2="861.6" stroke="#777" stroke-width="1.4"/>
<line x1="367.2" y1="621.5" x2="370" y2="621.5" stroke="#444" stroke-width="1"/>
<text x="365.7" y="624.41" font-size="7.3" text-anchor="end" fill="#4d4d4d" stroke="#4d4d4d" stroke-width="0.3" font-weight="bold" textLength="15.8" lengthAdjust="spacingAndGlyphs">0.20</text>
<line x1="367.2" y1="680.5" x2="370" y2="680.5" stroke="#444" stroke-width="1"/>
<text x="365.7" y="683.01" font-size="7.3" text-anchor="end" fill="#4d4d4d" stroke="#4d4d4d" stroke-width="0.3" font-weight="bold" textLength="15.8" lengthAdjust="spacingAndGlyphs">0.15</text>
<line x1="367.2" y1="739.5" x2="370" y2="739.5" stroke="#444" stroke-width="1"/>
<text x="365.7" y="742.11" font-size="7.3" text-anchor="end" fill="#4d4d4d" stroke="#4d4d4d" stroke-width="0.3" font-weight="bold" textLength="15.8" lengthAdjust="spacingAndGlyphs">0.10</text>
<line x1="367.2" y1="798.5" x2="370" y2="798.5" stroke="#444" stroke-width="1"/>
<text x="365.7" y="800.91" font-size="7.3" text-anchor="end" fill="#4d4d4d" stroke="#4d4d4d" stroke-width="0.3" font-weight="bold" textLength="15.8" lengthAdjust="spacingAndGlyphs">0.05</text>
<line x1="367.2" y1="857.5" x2="370" y2="857.5" stroke="#444" stroke-width="1"/>
<text x="365.7" y="859.61" font-size="7.3" text-anchor="end" fill="#4d4d4d" stroke="#4d4d4d" stroke-width="0.3" font-weight="bold" textLength="15.8" lengthAdjust="spacingAndGlyphs">0.00</text>
<line x1="409.5" y1="760.5" x2="409.5" y2="760.5" stroke="#7a7a7a" stroke-width="1.1"/>
<line x1="409.5" y1="776.8" x2="409.5" y2="782.5" stroke="#7a7a7a" stroke-width="1.1"/>
<rect x="393.3" y="760.7" width="32.1" height="16.1" fill="#ff9597" stroke="#5a4040" stroke-width="1"/>
<line x1="393.3" y1="774.1" x2="425.4" y2="774.1" stroke="#4a1c1c" stroke-width="1.7"/>
<line x1="445.5" y1="661.2" x2="445.5" y2="675.9" stroke="#7a7a7a" stroke-width="1.1"/>
<line x1="445.5" y1="710.1" x2="445.5" y2="726.9" stroke="#7a7a7a" stroke-width="1.1"/>
<rect x="428.8" y="675.9" width="32.6" height="34.2" fill="#ccff00" stroke="#3d4a0a" stroke-width="1"/>
<line x1="428.8" y1="692.2" x2="461.4" y2="692.2" stroke="#23280c" stroke-width="1.7"/>
<line x1="504.5" y1="818.5" x2="504.5" y2="818.5" stroke="#7a7a7a" stroke-width="1.1"/>
<line x1="504.5" y1="834.8" x2="504.5" y2="840.7" stroke="#7a7a7a" stroke-width="1.1"/>
<rect x="488.4" y="818.6" width="32.6" height="16.2" fill="#ff9597" stroke="#5a4040" stroke-width="1"/>
<line x1="488.4" y1="826.4" x2="521" y2="826.4" stroke="#4a1c1c" stroke-width="1.7"/>
<line x1="540.5" y1="685.5" x2="540.5" y2="737.5" stroke="#7a7a7a" stroke-width="1.1"/>
<line x1="540.5" y1="821.6" x2="540.5" y2="826.4" stroke="#7a7a7a" stroke-width="1.1"/>
<rect x="524.9" y="737.5" width="31.7" height="84.1" fill="#ccff00" stroke="#3d4a0a" stroke-width="1"/>
<line x1="524.9" y1="786.9" x2="556.6" y2="786.9" stroke="#23280c" stroke-width="1.7"/>
<line x1="600.5" y1="805.7" x2="600.5" y2="817.7" stroke="#7a7a7a" stroke-width="1.1"/>
<line x1="600.5" y1="845.5" x2="600.5" y2="850.3" stroke="#7a7a7a" stroke-width="1.1"/>
<rect x="583.9" y="817.7" width="32.9" height="27.8" fill="#ff9597" stroke="#5a4040" stroke-width="1"/>
<line x1="583.9" y1="832.7" x2="616.8" y2="832.7" stroke="#4a1c1c" stroke-width="1.7"/>
<line x1="635.5" y1="779.4" x2="635.5" y2="783.3" stroke="#7a7a7a" stroke-width="1.1"/>
<line x1="635.5" y1="825.8" x2="635.5" y2="836.3" stroke="#7a7a7a" stroke-width="1.1"/>
<rect x="620.1" y="783.3" width="32.3" height="42.5" fill="#ccff00" stroke="#3d4a0a" stroke-width="1"/>
<line x1="620.1" y1="802.7" x2="652.4" y2="802.7" stroke="#23280c" stroke-width="1.7"/>
<circle cx="409.1" cy="724.5" r="1.9" fill="#1a1a1a"/>
<path d="M388.5,633.1 V621.5 H465.5 V633.1" fill="none" stroke="#3a3a3a" stroke-width="1.1"/>
<ellipse cx="427.2" cy="613.9" rx="1.7" ry="1.45" fill="#222"/>
<path d="M489.5,656.6 V645.5 H560.5 V656.6" fill="none" stroke="#3a3a3a" stroke-width="1.1"/>
<text x="524.8" y="642.2" font-size="8.2" text-anchor="middle" fill="#222" stroke="#222" stroke-width="0.3" font-weight="bold" textLength="15.6" lengthAdjust="spacingAndGlyphs">n.s.</text>
<path d="M579.5,751.1 V739.5 H663.5 V751.1" fill="none" stroke="#3a3a3a" stroke-width="1.1"/>
<text x="622" y="736.7" font-size="8.2" text-anchor="middle" fill="#222" stroke="#222" stroke-width="0.3" font-weight="bold" textLength="13" lengthAdjust="spacingAndGlyphs">n.s</text>
<line x1="370" y1="610.6" x2="370" y2="862.4" stroke="#262626" stroke-width="1.8"/>
<line x1="369.2" y1="861.6" x2="675.1" y2="861.6" stroke="#262626" stroke-width="1.6"/>
<line x1="427.5" y1="861.6" x2="427.5" y2="864.1" stroke="#333" stroke-width="1"/>
<line x1="522.5" y1="861.6" x2="522.5" y2="864.1" stroke="#333" stroke-width="1"/>
<line x1="618.5" y1="861.6" x2="618.5" y2="864.1" stroke="#333" stroke-width="1"/>
<text x="406.7" y="874.2" font-size="10.2" text-anchor="start" fill="#333" textLength="40.5" lengthAdjust="spacingAndGlyphs" stroke="#333" stroke-width="0.35">BSFFF</text>
<text x="463.7" y="874.2" font-size="10.2" text-anchor="start" fill="#333" textLength="100.4" lengthAdjust="spacingAndGlyphs" stroke="#333" stroke-width="0.35">Synthetic fertilizers</text>
<text x="575.5" y="874.2" font-size="10.2" text-anchor="start" fill="#333" textLength="99.4" lengthAdjust="spacingAndGlyphs" stroke="#333" stroke-width="0.35">Non−fertilized soil</text>
<text transform="translate(353.9,714.2) scale(1.2,1) rotate(-90)" font-size="10.2" font-weight="bold" font-style="italic" fill="#111" textLength="17.8" lengthAdjust="spacingAndGlyphs">mpi</text>
<line x1="123.7" y1="893" x2="432.9" y2="893" stroke="#626262" stroke-width="1.3"/>
<line x1="432.9" y1="893" x2="432.9" y2="1143.3" stroke="#777" stroke-width="1.4"/>
<line x1="120.9" y1="952.5" x2="123.7" y2="952.5" stroke="#444" stroke-width="1"/>
<text x="119.8" y="954.72" font-size="7.6" text-anchor="end" fill="#4d4d4d" stroke="#4d4d4d" stroke-width="0.3" font-weight="bold" textLength="12.2" lengthAdjust="spacingAndGlyphs">0.3</text>
<line x1="120.9" y1="1012.5" x2="123.7" y2="1012.5" stroke="#444" stroke-width="1"/>
<text x="119.8" y="1014.92" font-size="7.6" text-anchor="end" fill="#4d4d4d" stroke="#4d4d4d" stroke-width="0.3" font-weight="bold" textLength="12.2" lengthAdjust="spacingAndGlyphs">0.2</text>
<line x1="120.9" y1="1072.5" x2="123.7" y2="1072.5" stroke="#444" stroke-width="1"/>
<text x="119.8" y="1075.32" font-size="7.6" text-anchor="end" fill="#4d4d4d" stroke="#4d4d4d" stroke-width="0.3" font-weight="bold" textLength="12.2" lengthAdjust="spacingAndGlyphs">0.1</text>
<line x1="120.9" y1="1132.5" x2="123.7" y2="1132.5" stroke="#444" stroke-width="1"/>
<text x="119.8" y="1135.62" font-size="7.6" text-anchor="end" fill="#4d4d4d" stroke="#4d4d4d" stroke-width="0.3" font-weight="bold" textLength="12.2" lengthAdjust="spacingAndGlyphs">0.0</text>
<line x1="163.5" y1="1038.5" x2="163.5" y2="1058.4" stroke="#7a7a7a" stroke-width="1.1"/>
<line x1="163.5" y1="1080.2" x2="163.5" y2="1084" stroke="#7a7a7a" stroke-width="1.1"/>
<rect x="147.1" y="1058.4" width="32.7" height="21.8" fill="#ff9597" stroke="#5a4040" stroke-width="1"/>
<line x1="147.1" y1="1072" x2="179.8" y2="1072" stroke="#4a1c1c" stroke-width="1.7"/>
<line x1="200.5" y1="1014.5" x2="200.5" y2="1029.9" stroke="#7a7a7a" stroke-width="1.1"/>
<line x1="200.5" y1="1044" x2="200.5" y2="1050.2" stroke="#7a7a7a" stroke-width="1.1"/>
<rect x="183.1" y="1029.9" width="33.5" height="14.1" fill="#ccff00" stroke="#3d4a0a" stroke-width="1"/>
<line x1="183.1" y1="1038" x2="216.6" y2="1038" stroke="#23280c" stroke-width="1.7"/>
<line x1="260.5" y1="1057.2" x2="260.5" y2="1068.8" stroke="#7a7a7a" stroke-width="1.1"/>
<line x1="260.5" y1="1081.4" x2="260.5" y2="1088.8" stroke="#7a7a7a" stroke-width="1.1"/>
<rect x="243.9" y="1068.8" width="33" height="12.6" fill="#ff9597" stroke="#5a4040" stroke-width="1"/>
<line x1="243.9" y1="1075.5" x2="276.9" y2="1075.5" stroke="#4a1c1c" stroke-width="1.7"/>
<line x1="296.5" y1="921.1" x2="296.5" y2="991.8" stroke="#7a7a7a" stroke-width="1.1"/>
<line x1="296.5" y1="1128.2" x2="296.5" y2="1129.8" stroke="#7a7a7a" stroke-width="1.1"/>
<rect x="280.1" y="991.8" width="33.1" height="136.4" fill="#ccff00" stroke="#3d4a0a" stroke-width="1"/>
<line x1="280.1" y1="1071" x2="313.2" y2="1071" stroke="#23280c" stroke-width="1.7"/>
<line x1="340.5" y1="1131.1" x2="373.3" y2="1131.1" stroke="#222" stroke-width="2.2"/>
<line x1="393.5" y1="1021.2" x2="393.5" y2="1076.8" stroke="#7a7a7a" stroke-width="1.1"/>
<line x1="393.5" y1="1120.1" x2="393.5" y2="1126.6" stroke="#7a7a7a" stroke-width="1.1"/>
<rect x="377.4" y="1076.8" width="32.8" height="43.3" fill="#ccff00" stroke="#3d4a0a" stroke-width="1"/>
<line x1="377.4" y1="1106.3" x2="410.2" y2="1106.3" stroke="#23280c" stroke-width="1.7"/>
<circle cx="357.2" cy="1126.6" r="1.9" fill="#1a1a1a"/>
<path d="M142.5,988 V981.5 H220.5 V988" fill="none" stroke="#3a3a3a" stroke-width="1.1"/>
<ellipse cx="181.8" cy="974.3" rx="1.7" ry="1.45" fill="#222"/>
<path d="M244.5,908.9 V903.5 H317.5 V908.9" fill="none" stroke="#3a3a3a" stroke-width="1.1"/>
<text x="281.1" y="900.9" font-size="8.2" text-anchor="middle" fill="#222" stroke="#222" stroke-width="0.3" font-weight="bold" textLength="15.6" lengthAdjust="spacingAndGlyphs">n.s.</text>
<path d="M336.5,1017.4 V1011.5 H422.5 V1017.4" fill="none" stroke="#3a3a3a" stroke-width="1.1"/>
<text x="379.7" y="1008.8" font-size="8.2" text-anchor="middle" fill="#222" stroke="#222" stroke-width="0.3" font-weight="bold" textLength="13" lengthAdjust="spacingAndGlyphs">n.s</text>
<line x1="123.7" y1="892.4" x2="123.7" y2="1144.1" stroke="#262626" stroke-width="1.8"/>
<line x1="122.9" y1="1143.3" x2="432.9" y2="1143.3" stroke="#262626" stroke-width="1.6"/>
<line x1="181.5" y1="1143.3" x2="181.5" y2="1145.8" stroke="#333" stroke-width="1"/>
<line x1="278.5" y1="1143.3" x2="278.5" y2="1145.8" stroke="#333" stroke-width="1"/>
<line x1="374.5" y1="1143.3" x2="374.5" y2="1145.8" stroke="#333" stroke-width="1"/>
<text x="166.1" y="1156.2" font-size="10.2" text-anchor="start" fill="#333" textLength="40.4" lengthAdjust="spacingAndGlyphs" stroke="#333" stroke-width="0.35">BSFFF</text>
<text x="226.7" y="1156.2" font-size="10.2" text-anchor="start" fill="#333" textLength="100.9" lengthAdjust="spacingAndGlyphs" stroke="#333" stroke-width="0.35">Synthetic fertilizers</text>
<text x="336.7" y="1156.2" font-size="10.2" text-anchor="start" fill="#333" textLength="99.5" lengthAdjust="spacingAndGlyphs" stroke="#333" stroke-width="0.35">Non−fertilized soil</text>
<text transform="translate(103.2,1023.5) scale(1.2,1) rotate(-90)" font-size="10.2" font-weight="bold" font-style="italic" fill="#111" textLength="23.4" lengthAdjust="spacingAndGlyphs">lox-3</text>
<text x="248.9" y="622.8" font-size="10.2" text-anchor="start" fill="#111" font-weight="bold" textLength="55.2" lengthAdjust="spacingAndGlyphs">Treatment</text>
<line x1="255.5" y1="628.9" x2="255.5" y2="639.3" stroke="#555" stroke-width="1"/>
<rect x="248.9" y="630.4" width="12.8" height="7.4" fill="#ff9597" stroke="#5a4040" stroke-width="0.9"/>
<line x1="248.9" y1="634.5" x2="261.7" y2="634.5" stroke="#333" stroke-width="1.2"/>
<line x1="255.5" y1="642.3" x2="255.5" y2="652.5" stroke="#555" stroke-width="1"/>
<rect x="248.9" y="643.8" width="12.8" height="7.2" fill="#ccff00" stroke="#3d4a0a" stroke-width="0.9"/>
<line x1="248.9" y1="647.5" x2="261.7" y2="647.5" stroke="#333" stroke-width="1.2"/>
<text x="268.9" y="637.2" font-size="9.5" text-anchor="start" fill="#222" stroke="#222" stroke-width="0.35" textLength="55.2" lengthAdjust="spacingAndGlyphs">Constitutive</text>
<text x="268.9" y="650.1" font-size="9.5" text-anchor="start" fill="#222" stroke="#222" stroke-width="0.35" textLength="36.8" lengthAdjust="spacingAndGlyphs">Induced</text>
<text x="3" y="638.8" font-size="10.5" text-anchor="start" fill="#222" textLength="17" lengthAdjust="spacingAndGlyphs">(C)</text>
</svg>
</body></html>
